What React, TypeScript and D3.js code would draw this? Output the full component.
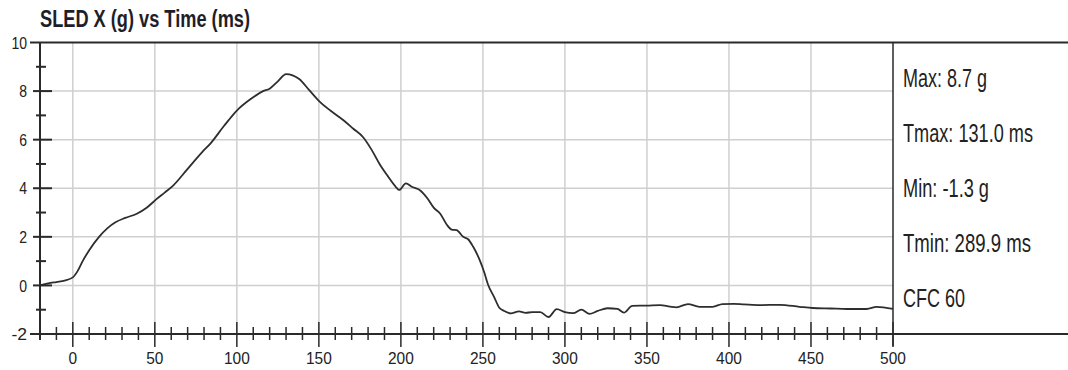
import React from "react";
import * as d3 from "d3";

const TITLE = "SLED X (g) vs Time (ms)";
const timeMs = [-20, -15, -10, -5, 0, 3, 6, 10, 16, 21, 26, 32, 39, 45, 51, 56, 61, 70, 79, 84, 92, 100, 108, 116, 120, 125, 130, 134, 138, 144, 150, 157, 165, 171, 177, 182, 187, 192, 197, 199, 203, 207, 212, 216, 220, 224, 228, 231, 234, 238, 241, 244, 248, 251, 253, 257, 260, 263, 267, 272, 276, 280, 285, 290, 295, 300, 305, 310, 315, 320, 326, 332, 336, 341, 350, 358, 364, 368, 375, 382, 390, 396, 403, 409, 419, 431, 443, 451, 462, 472, 484, 490, 500];
const accelG = [0.0, 0.08, 0.14, 0.2, 0.33, 0.6, 1.0, 1.45, 2.0, 2.35, 2.6, 2.78, 2.95, 3.2, 3.55, 3.82, 4.1, 4.8, 5.5, 5.85, 6.55, 7.2, 7.65, 8.0, 8.1, 8.4, 8.7, 8.65, 8.5, 8.05, 7.6, 7.2, 6.8, 6.45, 6.1, 5.6, 5.0, 4.5, 4.05, 3.93, 4.2, 4.05, 3.9, 3.6, 3.2, 2.95, 2.5, 2.3, 2.28, 2.0, 1.9, 1.6, 1.05, 0.5, 0.06, -0.5, -0.92, -1.05, -1.15, -1.07, -1.13, -1.1, -1.1, -1.3, -0.98, -1.1, -1.14, -1.0, -1.17, -1.05, -0.94, -0.97, -1.12, -0.84, -0.83, -0.81, -0.87, -0.9, -0.77, -0.88, -0.88, -0.77, -0.76, -0.78, -0.81, -0.8, -0.88, -0.93, -0.95, -0.97, -0.97, -0.88, -0.97];
const xMajorTicks = [0, 50, 100, 150, 200, 250, 300, 350, 400, 450, 500];
const yMajorTicks = [-2, 0, 2, 4, 6, 8, 10];
const statLabels = ["Max: 8.7 g", "Tmax: 131.0 ms", "Min: -1.3 g", "Tmin: 289.9 ms", "CFC 60"];
const statWidths = [84, 130, 86, 128, 62];

export default function App() {
  const W = 1068, H = 370;
  const x = d3.scaleLinear().domain([-20, 500]).range([40, 893]);
  const y = d3.scaleLinear().domain([-2, 10]).range([334, 42.5]);
  const xMinor = d3.range(-10, 500, 10).filter((t) => t % 50 !== 0);
  const yMinor = d3.range(-1, 10, 2);
  const pts = timeMs.map((t, i) => [t, accelG[i]] as [number, number]);
  const line = d3.line<[number, number]>().x((d) => x(d[0])).y((d) => y(d[1])).curve(d3.curveMonotoneX);
  const axisColor = "#2a2a2a";
  const grid = "#cfcfcf";
  const font = "'Liberation Sans', Arial, sans-serif";
  const xLabelW = (t: number) => String(t).length * 8.6;
  const yLabelW = (v: number) => String(v).length * 7.8;
  return (
    <svg width={W} height={H} style={{ position: "absolute", left: 0, top: 0, background: "#fff" }}>
      <rect x={0} y={0} width={W} height={H} fill="#fff" />
      <text x={40} y={27} fontFamily={font} fontWeight="bold" fontSize={23} fill="#1e1e28" textLength={210} lengthAdjust="spacingAndGlyphs">{TITLE}</text>
      {xMajorTicks.filter((t) => t < 500).map((t) => (
        <line key={"gx" + t} x1={x(t)} x2={x(t)} y1={y(10)} y2={y(-2)} stroke={grid} strokeWidth={1.5} />
      ))}
      {yMajorTicks.filter((v) => v > -2 && v < 10).map((v) => (
        <line key={"gy" + v} x1={x(-20)} x2={x(500)} y1={y(v)} y2={y(v)} stroke={grid} strokeWidth={1.5} />
      ))}
      <path d={line(pts) || ""} fill="none" stroke="#2e2e2e" strokeWidth={1.8} />
      <line x1={30} x2={W} y1={y(10)} y2={y(10)} stroke={axisColor} strokeWidth={2} />
      <line x1={30} x2={W} y1={y(-2)} y2={y(-2)} stroke={axisColor} strokeWidth={2} />
      <line x1={x(-20)} x2={x(-20)} y1={y(10)} y2={y(-2) + 6} stroke={axisColor} strokeWidth={2} />
      <line x1={x(500)} x2={x(500)} y1={y(10)} y2={y(-2) + 12} stroke={axisColor} strokeWidth={1.5} />
      {yMajorTicks.filter((v) => v > -2 && v < 10).map((v) => (
        <line key={"ytm" + v} x1={x(-20) - 7} x2={x(-20) + 12} y1={y(v)} y2={y(v)} stroke={axisColor} strokeWidth={2} />
      ))}
      {yMinor.map((v) => (
        <line key={"ytn" + v} x1={x(-20) - 4} x2={x(-20) + 6} y1={y(v)} y2={y(v)} stroke={axisColor} strokeWidth={2} />
      ))}
      {yMajorTicks.map((v) => (
        <text key={"yl" + v} x={27 - yLabelW(v)} y={y(v)} dy="0.36em" fontFamily={font} fontSize={17} fill="#222" textLength={yLabelW(v)} lengthAdjust="spacingAndGlyphs">{v}</text>
      ))}
      {xMajorTicks.map((t) => (
        <line key={"xtm" + t} x1={x(t)} x2={x(t)} y1={y(-2) - 12} y2={y(-2) + 13} stroke={axisColor} strokeWidth={1.5} />
      ))}
      {xMinor.map((t) => (
        <line key={"xtn" + t} x1={x(t)} x2={x(t)} y1={y(-2) - 7} y2={y(-2) + 6} stroke={axisColor} strokeWidth={1.5} />
      ))}
      {xMajorTicks.map((t) => (
        <text key={"xl" + t} x={x(t) - xLabelW(t) / 2} y={364} fontFamily={font} fontSize={17} fill="#222" textLength={xLabelW(t)} lengthAdjust="spacingAndGlyphs">{t}</text>
      ))}
      {statLabels.map((s, i) => (
        <text key={"s" + i} x={903} y={87 + i * 55} fontFamily={font} fontSize={25} fill="#222" textLength={statWidths[i]} lengthAdjust="spacingAndGlyphs">{s}</text>
      ))}
    </svg>
  );
}
